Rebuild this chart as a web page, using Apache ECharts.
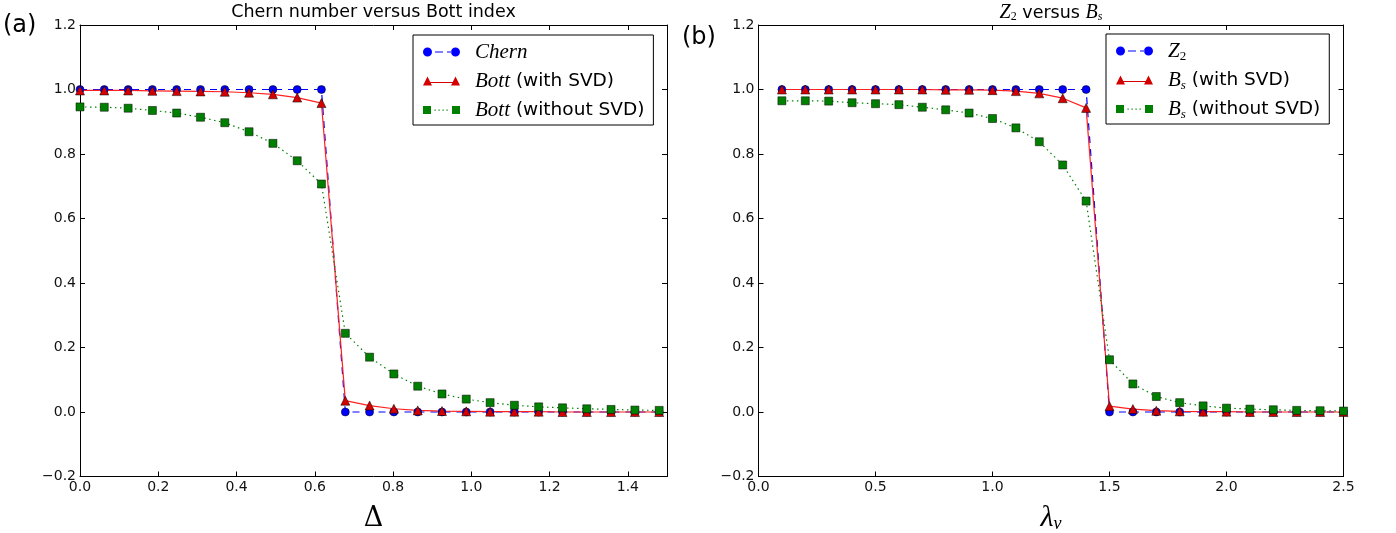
<!DOCTYPE html>
<html><head><meta charset="utf-8">
<script src="https://cdn.jsdelivr.net/npm/echarts@6/dist/echarts.min.js"></script>
<style>html,body{margin:0;padding:0;background:#fff}#c{width:1396px;height:533px}</style>
</head><body><div id="c"></div>
<script>
// ---- Panel (a): Chern number versus Bott index ----
const deltaX = [0, 0.062, 0.123, 0.185, 0.247, 0.308, 0.370, 0.432, 0.493, 0.555, 0.617, 0.678, 0.740, 0.802, 0.863, 0.925, 0.987, 1.048, 1.110, 1.172, 1.233, 1.295, 1.357, 1.418, 1.480];
const chern = [1, 1, 1, 1, 1, 1, 1, 1, 1, 1, 1, 0, 0, 0, 0, 0, 0, 0, 0, 0, 0, 0, 0, 0, 0];
const bottSVD = [0.997, 0.997, 0.997, 0.996, 0.995, 0.994, 0.993, 0.990, 0.985, 0.975, 0.958, 0.035, 0.020, 0.010, 0.005, 0.003, 0.002, 0.001, 0.001, 0.001, 0.000, 0.000, 0.000, 0.000, 0.000];
const bottNoSVD = [0.946, 0.945, 0.942, 0.935, 0.927, 0.914, 0.897, 0.869, 0.833, 0.779, 0.707, 0.244, 0.170, 0.118, 0.080, 0.056, 0.040, 0.029, 0.021, 0.016, 0.013, 0.010, 0.008, 0.006, 0.005];

// ---- Panel (b): Z2 versus Bs ----
const lambdaX = [0.1, 0.2, 0.3, 0.4, 0.5, 0.6, 0.7, 0.8, 0.9, 1.0, 1.1, 1.2, 1.3, 1.4, 1.5, 1.6, 1.7, 1.8, 1.9, 2.0, 2.1, 2.2, 2.3, 2.4, 2.5];
const z2 = [1, 1, 1, 1, 1, 1, 1, 1, 1, 1, 1, 1, 1, 1, 0, 0, 0, 0, 0, 0, 0, 0, 0, 0, 0];
const bsSVD = [1.0, 1.0, 1.0, 1.0, 1.0, 1.0, 1.0, 0.999, 0.999, 0.998, 0.995, 0.988, 0.973, 0.943, 0.018, 0.009, 0.004, 0.002, 0.001, 0.001, 0.000, 0.000, 0.000, 0.000, 0.000];
const bsNoSVD = [0.965, 0.965, 0.964, 0.959, 0.956, 0.953, 0.945, 0.937, 0.927, 0.910, 0.881, 0.838, 0.766, 0.654, 0.162, 0.087, 0.048, 0.029, 0.019, 0.012, 0.009, 0.007, 0.005, 0.004, 0.003];

const names = ['Chern', 'Bott (with SVD)', 'Bott (without SVD)', 'Z2', 'Bs (with SVD)', 'Bs (without SVD)'];
const legendText = {
  'Chern': '{i|Chern}',
  'Bott (with SVD)': '{i|Bott} (with SVD)',
  'Bott (without SVD)': '{i|Bott} (without SVD)',
  'Z2': '{i|Z}{num|2}',
  'Bs (with SVD)': '{i|B}{sub|s} (with SVD)',
  'Bs (without SVD)': '{i|B}{sub|s} (without SVD)'
};

const SANS = 'DejaVu Sans';
const SERIF = 'Liberation Serif';
const fmt = v => (Math.abs(v) < 1e-9 ? 0 : v).toFixed(1).replace('-', '\u2212');

// legend icons (marker - line - marker), 370x90 units
const ICON_CIRCLE_DASH = 'path://M0,45A45,45 0 1,0 90,45A45,45 0 1,0 0,45Z M280,45A45,45 0 1,0 370,45A45,45 0 1,0 280,45Z M120,40L200,40L200,50L120,50Z M240,40L285,40L285,50L240,50Z';
const ICON_TRI_LINE = 'path://M0,90L45,0L90,90Z M280,90L325,0L370,90Z M45,55L325,55L325,66L45,66Z';
const ICON_SQ_DOT = 'path://M0,5L80,5L80,85L0,85Z M290,5L370,5L370,85L290,85Z M0,0L0.1,0L0.1,90L0,90Z M115,40L127,40L127,52L115,52Z M155,40L167,40L167,52L155,52Z M195,40L207,40L207,52L195,52Z M235,40L247,40L247,52L235,52Z';
const icons = [ICON_CIRCLE_DASH, ICON_TRI_LINE, ICON_SQ_DOT];

function xAxisDef(grid, pos, max, interval, show, nameTxt) {
  return {
    type: 'value', gridIndex: grid, position: pos, min: 0, max: max, interval: interval,
    axisLine: { show: true, onZero: false, lineStyle: { color: '#000', width: 1 } },
    axisTick: { show: true, inside: true, length: 5, lineStyle: { color: '#000' } },
    axisLabel: { show: show, formatter: fmt, fontFamily: SANS, fontSize: 14, color: '#111', margin: 4, showMaxLabel: max === 2.5 },
    splitLine: { show: false },
    name: nameTxt || '', nameLocation: 'middle', nameGap: 27,
    nameTextStyle: {
      fontFamily: 'DejaVu Serif', fontSize: 27, color: '#000', lineHeight: 30,
      rich: {
        l: { fontFamily: SERIF, fontStyle: 'italic', fontSize: 30, lineHeight: 30, color: '#000' },
        s: { fontFamily: SERIF, fontStyle: 'italic', fontSize: 18, lineHeight: 16, verticalAlign: 'bottom', color: '#000' }
      }
    }
  };
}
function yAxisDef(grid, pos, show) {
  return {
    type: 'value', gridIndex: grid, position: pos, min: -0.2, max: 1.2, interval: 0.2,
    axisLine: { show: true, onZero: false, lineStyle: { color: '#000', width: 1 } },
    axisTick: { show: true, inside: true, length: 5, lineStyle: { color: '#000' } },
    axisLabel: { show: show, formatter: fmt, fontFamily: SANS, fontSize: 14, color: '#111', margin: 4 },
    splitLine: { show: false }
  };
}

function series(name, xs, ys, xi, color, lineType, symbol, lineColor) {
  return {
    name: name, type: 'line', xAxisIndex: xi, yAxisIndex: xi,
    data: xs.map((x, i) => [x, ys[i]]),
    symbol: symbol, symbolSize: symbol === 'triangle' ? 9 : 8, showSymbol: true,
    lineStyle: { color: lineColor || color, width: 1.2, type: lineType },
    itemStyle: { color: color, borderColor: '#000', borderWidth: 0.5 },
    emphasis: { disabled: true }, animation: false, clip: false
  };
}

const legendRich = {
  i: { fontFamily: SERIF, fontStyle: 'italic', fontSize: 21, lineHeight: 24, color: '#000' },
  sub: { fontFamily: SERIF, fontStyle: 'italic', fontSize: 13, lineHeight: 12, verticalAlign: 'bottom', color: '#000' },
  num: { fontFamily: SERIF, fontSize: 13, lineHeight: 12, verticalAlign: 'bottom', color: '#000' }
};
function legendDef(data, left, top) {
  return {
    data: data.map((n, k) => ({ name: n, icon: icons[k] })),
    orient: 'vertical', left: left, top: top, align: 'left',
    backgroundColor: '#fff', borderColor: '#000', borderWidth: 1, borderRadius: 0,
    padding: [5, 9, 3, 10], itemGap: 5, itemWidth: 37, itemHeight: 9,
    itemStyle: { borderWidth: 0 },
    formatter: n => legendText[n],
    textStyle: { fontFamily: SANS, fontSize: 18.5, color: '#000', lineHeight: 24, padding: [0, 0, 0, 10], rich: legendRich },
    selectedMode: false
  };
}

const titleRich = {
  i: { fontFamily: SERIF, fontStyle: 'italic', fontSize: 20, lineHeight: 20, fill: '#000' },
  sub: { fontFamily: SERIF, fontStyle: 'italic', fontSize: 12, lineHeight: 11, verticalAlign: 'bottom', fill: '#000' },
  num: { fontFamily: SERIF, fontSize: 12, lineHeight: 11, verticalAlign: 'bottom', fill: '#000' }
};

const option = {
  backgroundColor: '#fff',
  animation: false,
  grid: [
    { left: 80, top: 25, width: 587, height: 451.5, outerBoundsMode: 'none', containLabel: false },
    { left: 758.5, top: 25, width: 585, height: 451.5, outerBoundsMode: 'none', containLabel: false }
  ],
  xAxis: [
    xAxisDef(0, 'bottom', 1.5, 0.2, true, '\u0394'),
    xAxisDef(0, 'top', 1.5, 0.2, false),
    xAxisDef(1, 'bottom', 2.5, 0.5, true, '{l|\u03bb}{s|v}'),
    xAxisDef(1, 'top', 2.5, 0.5, false)
  ],
  yAxis: [
    yAxisDef(0, 'left', true),
    yAxisDef(0, 'right', false),
    yAxisDef(1, 'left', true),
    yAxisDef(1, 'right', false)
  ],
  legend: [
    legendDef(names.slice(0, 3), 413, 35),
    legendDef(names.slice(3, 6), 1106, 34)
  ],
  graphic: [
    { type: 'text', x: 3, y: 26, style: { text: '(a)', font: '24px "DejaVu Sans"', fill: '#000', textVerticalAlign: 'middle' } },
    { type: 'text', x: 682, y: 38, style: { text: '(b)', font: '24px "DejaVu Sans"', fill: '#000', textVerticalAlign: 'middle' } },
    { type: 'text', x: 373.5, y: 12, style: { text: 'Chern number versus Bott index', font: '17.5px "DejaVu Sans"', fill: '#000', textAlign: 'center', textVerticalAlign: 'middle' } },
    { type: 'text', x: 1051, y: 13, style: { text: '{i|Z}{num|2} versus {i|B}{sub|s}', font: '17.5px "DejaVu Sans"', lineHeight: 20, fill: '#000', textAlign: 'center', textVerticalAlign: 'middle', rich: titleRich } }
  ],
  series: [
    series(names[0], deltaX, chern, 0, '#0000ff', [7, 6], 'circle'),
    series(names[1], deltaX, bottSVD, 0, '#d40000', 'solid', 'triangle', '#ff2020'),
    series(names[2], deltaX, bottNoSVD, 0, '#008000', [1.5, 3.5], 'rect'),
    series(names[3], lambdaX, z2, 2, '#0000ff', [7, 6], 'circle'),
    series(names[4], lambdaX, bsSVD, 2, '#d40000', 'solid', 'triangle', '#ff2020'),
    series(names[5], lambdaX, bsNoSVD, 2, '#008000', [1.5, 3.5], 'rect')
  ]
};
const chart = echarts.init(document.getElementById('c'));
chart.setOption(option);
</script>
</body></html>
